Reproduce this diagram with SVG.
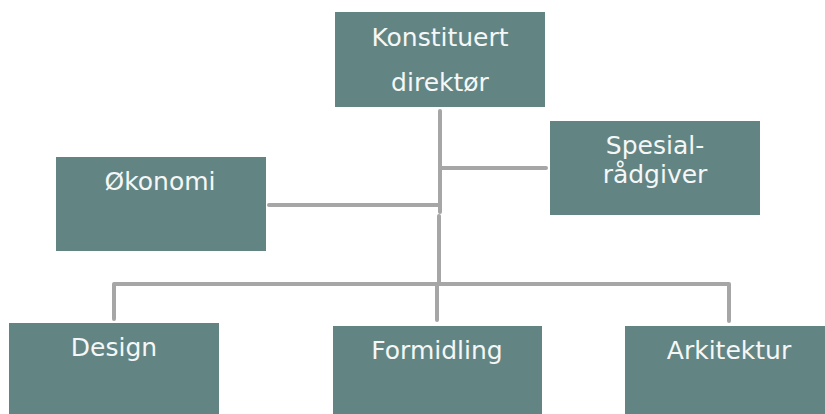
<svg xmlns="http://www.w3.org/2000/svg" width="825" height="414" viewBox="0 0 825 414">
<style>
.box{fill:#628584}
.t{font-family:"DejaVu Sans",Verdana,sans-serif;font-size:25px;fill:#F5F7F7;text-anchor:middle}
.c{fill:none;stroke:#A6A6A6;stroke-width:4;stroke-linecap:round;stroke-linejoin:round}
</style>
<rect width="825" height="414" fill="#FFFFFF"/>
<g id="connectors">
<path class="c" d="M440,111 V212"/>
<path class="c" d="M439,216 V284"/>
<path class="c" d="M441,168 H546"/>
<path class="c" d="M269,205 H438"/>
<path class="c" d="M114,319 V284 H729 V321"/>
<path class="c" d="M437,284 V320"/>
</g>
<g id="konstituert">
<rect class="box" x="335" y="12" width="210" height="95"/>
<text class="t" x="440" y="46">Konstituert</text>
<text class="t" x="440" y="91">direktør</text>
</g>
<g id="spesial">
<rect class="box" x="550" y="121" width="210" height="94"/>
<text class="t" x="655" y="154">Spesial-</text>
<text class="t" x="655" y="183">rådgiver</text>
</g>
<g id="okonomi">
<rect class="box" x="56" y="157" width="210" height="94"/>
<text class="t" x="160" y="190">Økonomi</text>
</g>
<g id="design">
<rect class="box" x="9" y="323" width="210" height="95"/>
<text class="t" x="114" y="356">Design</text>
</g>
<g id="formidling">
<rect class="box" x="333" y="326" width="209" height="92"/>
<text class="t" x="437" y="359">Formidling</text>
</g>
<g id="arkitektur">
<rect class="box" x="625" y="326" width="205" height="92"/>
<text class="t" x="729" y="359">Arkitektur</text>
</g>
</svg>
